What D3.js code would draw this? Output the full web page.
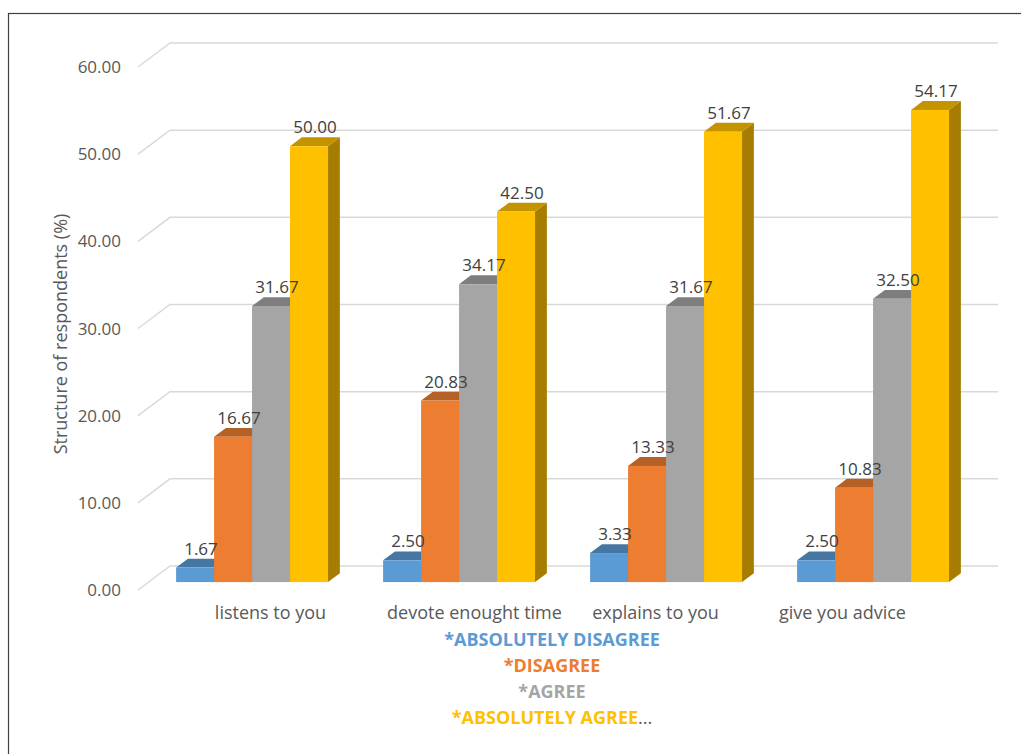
<!DOCTYPE html>
<html>
<head>
<meta charset="utf-8">
<style>
  body { margin: 0; background: #fff; }
  svg { display: block; font-family: "Open Sans", Lato, sans-serif; }
</style>
</head>
<body>
<svg width="1021" height="754"></svg>
<script src="https://d3js.org/d3.v7.min.js"></script>
<script>

// data
var categories = ["listens to you", "devote enought time", "explains to you", "give you advice"];
var seriesNames = ["*ABSOLUTELY DISAGREE", "*DISAGREE", "*AGREE", "*ABSOLUTELY AGREE"];
var absolutelyDisagree = [1.67, 2.50, 3.33, 2.50];
var disagree = [16.67, 20.83, 13.33, 10.83];
var agree = [31.67, 34.17, 31.67, 32.50];
var absolutelyAgree = [50.00, 42.50, 51.67, 54.17];
var yTicks = [0, 10, 20, 30, 40, 50, 60];

var seriesValues = [absolutelyDisagree, disagree, agree, absolutelyAgree];
var colors = ["#5B9BD5", "#ED7D31", "#A5A5A5", "#FFC000"];

var svg = d3.select("svg");

// chart frame
svg.append("rect")
    .attr("x", 8.5).attr("y", 13.5)
    .attr("width", 1040).attr("height", 780)
    .attr("fill", "#fff")
    .attr("stroke", "#404040")
    .attr("stroke-width", 1.2);

// oblique 3d: depth goes up and right
var depthX = 32, depthY = 24;
var zFront = 0.33, zBack = 0.70;

var x = d3.scaleBand()
    .domain(categories)
    .range([138, 966])
    .paddingInner(0.266)
    .paddingOuter(0.133);

var x1 = d3.scaleBand()
    .domain(d3.range(4))
    .range([0, x.bandwidth()]);

var y = d3.scaleLinear()
    .domain([0, 60])
    .range([590, 67]);

function px(xv, z) { return xv + depthX * z; }
function py(v, z) { return y(v) - depthY * z; }

// grid: diagonal on left wall + line on back wall
var grid = svg.append("g").attr("stroke", "#D9D9D9").attr("stroke-width", 1.5).attr("fill", "none");
yTicks.forEach(function(t) {
  grid.append("path")
      .attr("d", "M" + px(138, 0) + "," + py(t, 0) +
                 "L" + px(138, 1) + "," + py(t, 1) +
                 "L" + (px(966, 1)) + "," + py(t, 1));
});

// tick labels
svg.append("g")
  .selectAll("text")
  .data(yTicks)
  .join("text")
    .attr("x", 121)
    .attr("y", function(d) { return y(d) + 6; })
    .attr("text-anchor", "end")
    .attr("font-size", 17)
    .attr("fill", "#595959")
    .text(function(d) { return d3.format(".2f")(d); });

// axis title
svg.append("text")
    .attr("transform", "translate(67,334) rotate(-90)")
    .attr("text-anchor", "middle")
    .attr("font-size", 18)
    .attr("fill", "#595959")
    .text("Structure of respondents (%)");

// bars
var bars = [];
categories.forEach(function(c, i) {
  seriesValues.forEach(function(vals, s) {
    bars.push({cat: c, s: s, v: vals[i]});
  });
});

var barG = svg.append("g");
bars.forEach(function(d) {
  var x0 = x(d.cat) + x1(d.s), xr = x0 + x1.bandwidth();
  var base = d3.color(colors[d.s]);
  var g = barG.append("g");
  // side face
  g.append("path")
      .attr("d", "M" + px(xr, zFront) + "," + py(0, zFront) +
                 "L" + px(xr, zBack) + "," + py(0, zBack) +
                 "L" + px(xr, zBack) + "," + py(d.v, zBack) +
                 "L" + px(xr, zFront) + "," + py(d.v, zFront) + "Z")
      .attr("fill", base.darker(1.2));
  // top face
  g.append("path")
      .attr("d", "M" + px(x0, zFront) + "," + py(d.v, zFront) +
                 "L" + px(xr, zFront) + "," + py(d.v, zFront) +
                 "L" + px(xr, zBack) + "," + py(d.v, zBack) +
                 "L" + px(x0, zBack) + "," + py(d.v, zBack) + "Z")
      .attr("fill", base.darker(0.75));
  // front face
  g.append("rect")
      .attr("x", px(x0, zFront))
      .attr("y", py(d.v, zFront))
      .attr("width", x1.bandwidth())
      .attr("height", py(0, zFront) - py(d.v, zFront))
      .attr("fill", base);
});

// data labels
svg.append("g")
  .selectAll("text")
  .data(bars)
  .join("text")
    .attr("x", function(d) { return px(x(d.cat) + x1(d.s) + x1.bandwidth() / 2, (zFront + zBack) / 2); })
    .attr("y", function(d) { return py(d.v, zBack) - 4; })
    .attr("text-anchor", "middle")
    .attr("font-size", 17)
    .attr("fill", "#404040")
    .text(function(d) { return d3.format(".2f")(d.v); });

// category labels (excel places them a bit unevenly)
var labelNudge = [29, 26, 0, -20];
svg.append("g")
  .selectAll("text")
  .data(categories)
  .join("text")
    .attr("x", function(d, i) { return x(d) + x.bandwidth() / 2 + labelNudge[i]; })
    .attr("y", 619)
    .attr("text-anchor", "middle")
    .attr("font-size", 18)
    .attr("fill", "#595959")
    .text(function(d) { return d; });

// legend
var legend = svg.append("g")
  .selectAll("text")
  .data(seriesNames)
  .join("text")
    .attr("x", 552)
    .attr("y", function(d, i) { return 646 + i * 26; })
    .attr("text-anchor", "middle")
    .attr("font-size", 18)
    .attr("font-weight", "bold")
    .attr("fill", function(d, i) { return colors[i]; })
    .text(function(d) { return d; });

legend.filter(function(d, i) { return i === seriesNames.length - 1; })
  .append("tspan")
    .attr("font-weight", "normal")
    .attr("fill", "#595959")
    .text("...");

</script>
</body>
</html>
